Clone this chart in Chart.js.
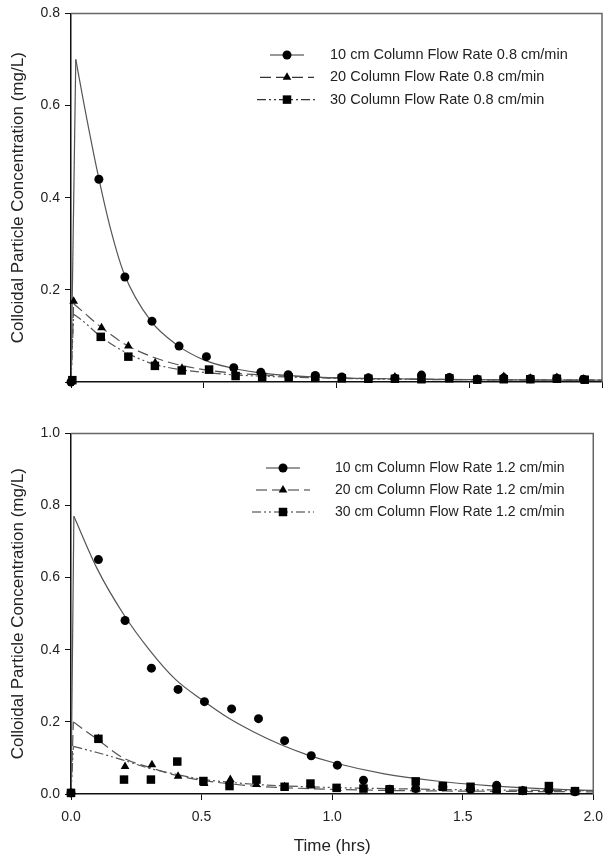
<!DOCTYPE html>
<html>
<head>
<meta charset="utf-8">
<script src="https://cdn.jsdelivr.net/npm/chart.js@4.4.1/dist/chart.umd.min.js"></script>
<style>
    html, body { margin: 0; padding: 0; background: #fff; }
    .panel { position: absolute; left: 0; width: 612px; }
    #top { top: 0; height: 420px; }
    #bottom { top: 420px; height: 438px; }
</style>
</head>
<body>
<div class="panel" id="top"><canvas id="chartTop" width="612" height="420"></canvas></div>
<div class="panel" id="bottom"><canvas id="chartBottom" width="612" height="438"></canvas></div>
<script>
// ---- Top panel: flow rate 0.8 cm/min ----
const topLabels = ['10 cm Column Flow Rate 0.8 cm/min', '20 Column Flow Rate 0.8 cm/min', '30 Column Flow Rate 0.8 cm/min'];

const top10T = [0, 0.105, 0.203, 0.305, 0.407, 0.51, 0.613, 0.715, 0.818, 0.92, 1.02, 1.12, 1.22, 1.32, 1.425, 1.53, 1.63, 1.73, 1.83, 1.93];
const top10V = [0, 0.44, 0.228, 0.132, 0.078, 0.055, 0.031, 0.021, 0.016, 0.014, 0.011, 0.009, 0.008, 0.015, 0.01, 0.006, 0.009, 0.007, 0.008, 0.006];
const top20T = [0.01, 0.115, 0.216, 0.317, 0.418, 0.52, 0.62, 0.72, 0.82, 0.92, 1.02, 1.12, 1.22, 1.32, 1.425, 1.53, 1.63, 1.73, 1.83, 1.93];
const top20V = [0.175, 0.118, 0.078, 0.042, 0.03, 0.024, 0.018, 0.015, 0.012, 0.011, 0.009, 0.008, 0.011, 0.008, 0.01, 0.006, 0.012, 0.008, 0.01, 0.006];
const top30T = [0.005, 0.112, 0.216, 0.316, 0.417, 0.52, 0.62, 0.72, 0.82, 0.92, 1.02, 1.12, 1.22, 1.32, 1.425, 1.53, 1.63, 1.73, 1.83, 1.935];
const top30V = [0.004, 0.098, 0.055, 0.035, 0.025, 0.027, 0.013, 0.011, 0.01, 0.009, 0.008, 0.007, 0.007, 0.006, 0.008, 0.005, 0.006, 0.006, 0.007, 0.005];

// fitted curves (first point = start at t 0, second = peak)
const topFit10T = [0, 0.018, 0.05, 0.1, 0.15, 0.2, 0.3, 0.4, 0.5, 0.6, 0.7, 0.8, 1.0, 1.2, 1.5, 2.0];
const topFit10V = [0, 0.70, 0.60, 0.455, 0.33, 0.235, 0.133, 0.08, 0.048, 0.031, 0.021, 0.015, 0.009, 0.007, 0.005, 0.004];
const topFit20T = [0, 0.01, 0.05, 0.1, 0.15, 0.2, 0.3, 0.4, 0.5, 0.6, 0.7, 0.8, 1.0, 1.2, 1.5, 2.0];
const topFit20V = [0, 0.17, 0.15, 0.125, 0.103, 0.083, 0.056, 0.038, 0.027, 0.02, 0.016, 0.013, 0.009, 0.007, 0.005, 0.004];
const topFit30T = [0, 0.01, 0.05, 0.1, 0.15, 0.2, 0.3, 0.4, 0.5, 0.6, 0.7, 0.8, 1.0, 1.2, 1.5, 2.0];
const topFit30V = [0, 0.147, 0.13, 0.104, 0.083, 0.066, 0.041, 0.028, 0.021, 0.016, 0.013, 0.011, 0.008, 0.006, 0.005, 0.004];

// ---- Bottom panel: flow rate 1.2 cm/min ----
const botLabels = ['10 cm Column Flow Rate 1.2 cm/min', '20 cm Column Flow Rate 1.2 cm/min', '30 cm Column Flow Rate 1.2 cm/min'];

const bot10T = [0, 0.105, 0.207, 0.308, 0.41, 0.511, 0.615, 0.718, 0.818, 0.92, 1.02, 1.12, 1.22, 1.32, 1.424, 1.53, 1.63, 1.73, 1.83, 1.93];
const bot10V = [0.003, 0.65, 0.481, 0.349, 0.29, 0.256, 0.236, 0.209, 0.148, 0.106, 0.08, 0.038, 0.013, 0.015, 0.02, 0.013, 0.024, 0.009, 0.011, 0.006];
const bot20T = [0, 0.105, 0.207, 0.31, 0.41, 0.51, 0.61, 0.71, 0.818, 0.92, 1.02, 1.12, 1.22, 1.32, 1.424, 1.53, 1.63, 1.73, 1.83, 1.93];
const bot20V = [0.003, 0.153, 0.076, 0.081, 0.049, 0.029, 0.04, 0.026, 0.02, 0.022, 0.015, 0.02, 0.012, 0.012, 0.015, 0.012, 0.012, 0.01, 0.013, 0.007];
const bot30T = [0, 0.105, 0.203, 0.306, 0.407, 0.507, 0.607, 0.71, 0.818, 0.917, 1.017, 1.12, 1.22, 1.32, 1.424, 1.53, 1.63, 1.73, 1.83, 1.93];
const bot30V = [0.003, 0.153, 0.04, 0.04, 0.09, 0.036, 0.022, 0.04, 0.02, 0.029, 0.017, 0.015, 0.013, 0.035, 0.022, 0.02, 0.013, 0.009, 0.022, 0.008];

const botFit10T = [0, 0.011, 0.1, 0.2, 0.3, 0.4, 0.5, 0.6, 0.7, 0.8, 0.9, 1.0, 1.2, 1.4, 1.6, 1.8, 2.0];
const botFit10V = [0, 0.77, 0.625, 0.5, 0.4, 0.318, 0.262, 0.212, 0.172, 0.138, 0.11, 0.088, 0.056, 0.036, 0.023, 0.015, 0.01];
const botFit20T = [0, 0.009, 0.05, 0.1, 0.2, 0.3, 0.4, 0.5, 0.6, 0.7, 0.8, 1.0, 1.2, 1.5, 2.0];
const botFit20V = [0, 0.2, 0.178, 0.152, 0.1, 0.074, 0.052, 0.038, 0.029, 0.022, 0.018, 0.013, 0.01, 0.008, 0.006];
const botFit30T = [0, 0.009, 0.1, 0.2, 0.3, 0.4, 0.5, 0.6, 0.7, 0.8, 1.0, 1.2, 1.5, 2.0];
const botFit30V = [0, 0.132, 0.115, 0.094, 0.071, 0.055, 0.041, 0.033, 0.027, 0.023, 0.018, 0.015, 0.012, 0.009];

const xTicks = [0, 0.5, 1.0, 1.5, 2.0];
const yTitle = 'Colloidal Particle Concentration (mg/L)';
const xTitle = 'Time (hrs)';

// styling per series (10, 20, 30 cm)
const markers = ['circle', 'triangle', 'rect'];
const markerSize = [4.5, 5, 6];
const dashes = [[], [11, 5], [9, 3, 2, 3, 2, 3]];

Chart.defaults.font.family = "'Liberation Sans', Arial, sans-serif";
Chart.defaults.color = '#222';

const pts = (xs, ys) => xs.map((x, i) => ({ x: x, y: ys[i] }));

// grey box on top and right of the plot area
const framePlugin = {
    id: 'frame',
    beforeDatasetsDraw(chart) {
        const { ctx, chartArea: a } = chart;
        ctx.save();
        ctx.strokeStyle = '#666';
        ctx.lineWidth = 1.5;
        ctx.beginPath();
        ctx.moveTo(a.left, a.top);
        ctx.lineTo(a.right, a.top);
        ctx.lineTo(a.right, a.bottom);
        ctx.stroke();
        ctx.restore();
    }
};

// SigmaPlot style legend: line + marker + text
const legendPlugin = {
    id: 'lineLegend',
    afterDraw(chart, args, opts) {
        const ctx = chart.ctx;
        ctx.save();
        opts.labels.forEach((label, i) => {
            const y = opts.y + i * opts.gap;
            ctx.strokeStyle = '#333';
            ctx.lineWidth = 1.2;
            ctx.setLineDash(dashes[i]);
            ctx.beginPath();
            ctx.moveTo(opts.mx - opts.half[i], y);
            ctx.lineTo(opts.mx + opts.half[i], y);
            ctx.stroke();
            ctx.setLineDash([]);
            ctx.fillStyle = '#000';
            Chart.helpers.drawPoint(ctx, { pointStyle: markers[i], radius: markerSize[i], rotation: 0, borderWidth: 0 }, opts.mx, y);
            ctx.fillStyle = '#222';
            ctx.font = opts.font;
            ctx.textBaseline = 'middle';
            ctx.textAlign = 'left';
            ctx.fillText(label, opts.tx, y);
        });
        ctx.restore();
    }
};

function makePanel(id, p) {
    const datasets = [];
    p.points.forEach((s, i) => {
        datasets.push({
            label: p.labels[i],
            data: pts(s[0], s[1]),
            showLine: false,
            pointStyle: markers[i],
            pointRadius: markerSize[i],
            pointBackgroundColor: '#000',
            pointBorderColor: '#000',
            pointBorderWidth: 0,
            clip: false
        });
    });
    p.fits.forEach((s, i) => {
        const common = {
            showLine: true,
            pointRadius: 0,
            borderColor: '#555',
            borderWidth: 1.2,
            borderDash: dashes[i],
            fill: false
        };
        // steep rise from t = 0 to the peak, straight
        datasets.push(Object.assign({}, common, {
            label: p.labels[i] + ' rise',
            data: pts(s[0].slice(0, 2), s[1].slice(0, 2))
        }));
        // smooth decay after the peak
        datasets.push(Object.assign({}, common, {
            label: p.labels[i] + ' fit',
            data: pts(s[0].slice(1), s[1].slice(1)),
            cubicInterpolationMode: 'monotone'
        }));
    });

    return new Chart(document.getElementById(id), {
        type: 'scatter',
        data: { datasets: datasets },
        options: {
            responsive: false,
            animation: false,
            devicePixelRatio: 1,
            layout: { padding: { top: p.padTop, right: 10, left: 0, bottom: 0 } },
            plugins: {
                legend: { display: false },
                tooltip: { enabled: false },
                lineLegend: p.legend
            },
            scales: {
                x: {
                    type: 'linear',
                    min: 0,
                    max: 2,
                    afterBuildTicks: (s) => { s.ticks = xTicks.map(v => ({ value: v })); },
                    afterFit: (s) => { s.height = p.xHeight; },
                    border: { display: true, color: '#111', width: 1.5 },
                    grid: { drawOnChartArea: false, drawTicks: true, tickLength: 6, color: '#111', lineWidth: 1 },
                    ticks: {
                        padding: 9,
                        font: { size: 14 },
                        maxRotation: 0,
                        autoSkip: false,
                        callback: (v) => p.showX ? v.toFixed(1) : ''
                    },
                    title: {
                        display: p.showX,
                        text: xTitle,
                        font: { size: 17 },
                        padding: { top: 0, bottom: 1 }
                    }
                },
                y: {
                    type: 'linear',
                    min: 0,
                    max: p.yMax,
                    afterFit: (s) => { s.width = 71; },
                    border: { display: true, color: '#111', width: 1.5 },
                    grid: { drawOnChartArea: false, drawTicks: true, tickLength: 6, color: '#111', lineWidth: 1 },
                    ticks: {
                        stepSize: 0.2,
                        padding: 5,
                        font: { size: 14 },
                        callback: (v) => (v === 0 && !p.showZero) ? '' : v.toFixed(1)
                    },
                    title: {
                        display: true,
                        text: yTitle,
                        font: { size: 17 },
                        padding: { top: 8, bottom: 0 }
                    }
                }
            }
        },
        plugins: [framePlugin, legendPlugin]
    });
}

makePanel('chartTop', {
    labels: topLabels,
    points: [[top10T, top10V], [top20T, top20V], [top30T, top30V]],
    fits: [[topFit10T, topFit10V], [topFit20T, topFit20V], [topFit30T, topFit30V]],
    yMax: 0.8,
    padTop: 12,
    xHeight: 38,
    showX: false,
    showZero: false,
    legend: { labels: topLabels, y: 55, gap: 22.3, mx: 287, half: [17, 27, 30], tx: 330, font: '14.5px "Liberation Sans", Arial, sans-serif' }
});

makePanel('chartBottom', {
    labels: botLabels,
    points: [[bot10T, bot10V], [bot20T, bot20V], [bot30T, bot30V]],
    fits: [[botFit10T, botFit10V], [botFit20T, botFit20V], [botFit30T, botFit30V]],
    yMax: 1.0,
    padTop: 4,
    xHeight: 64,
    showX: true,
    showZero: true,
    legend: { labels: botLabels, y: 48, gap: 22, mx: 283, half: [17, 27, 31], tx: 335, font: '14px "Liberation Sans", Arial, sans-serif' }
});
</script>
</body>
</html>
